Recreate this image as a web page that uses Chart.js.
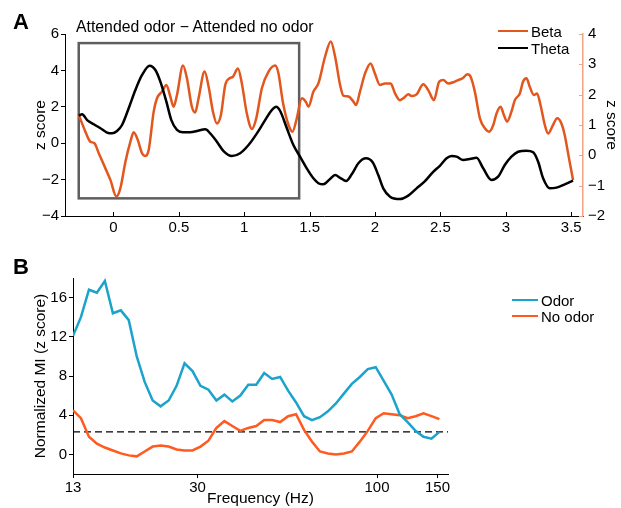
<!DOCTYPE html>
<html lang="en">
<head>
  <meta charset="UTF-8">
  <title>Attended odor vs no odor</title>
  <script src="https://cdn.jsdelivr.net/npm/chart.js"></script>
  <style>
    body { margin: 0; background: #fff; font-family: "Liberation Sans", Arial, sans-serif; }
    #wrap { position: relative; width: 621px; height: 508px; }
    canvas { position: absolute; left: 0; }
    .panel { position: absolute; font-weight: bold; font-size: 22px; line-height: 22px; }
    .note { position: absolute; font-size: 15.8px; line-height: 18px; white-space: nowrap; }
    .key { position: absolute; display: flex; align-items: center; height: 16px; font-size: 15px; white-space: nowrap; }
    .key span.line { display: inline-block; height: 2px; margin-right: 3px; }
  </style>
</head>
<body>
<div id="wrap">
  <canvas id="chartA" width="621" height="250" style="top:0"></canvas>
  <canvas id="chartB" width="621" height="258" style="top:250px"></canvas>

  <div class="panel" style="left:13px;top:11px">A</div>
  <div class="note" style="left:76px;top:18px">Attended odor − Attended no odor</div>
  <div class="key" style="left:498px;top:23px"><span class="line" style="width:30px;background:#e2571e"></span>Beta</div>
  <div class="key" style="left:498px;top:40px"><span class="line" style="width:30px;background:#000"></span>Theta</div>

  <div class="panel" style="left:13px;top:256px">B</div>
  <div class="key" style="left:512px;top:292px"><span class="line" style="width:26px;background:#1ca3cc"></span>Odor</div>
  <div class="key" style="left:512px;top:308px"><span class="line" style="width:26px;background:#ff5a1f"></span>No odor</div>
</div>

<script>
  // ---- panel A: z score over time (s) ----
  const thetaTime = [-0.265, -0.239, -0.201, -0.150, -0.099, -0.053, -0.010, 0.028, 0.066, 0.117,
    0.168, 0.219, 0.277, 0.321, 0.359, 0.405, 0.443, 0.486, 0.532, 0.588,
    0.639, 0.702, 0.740, 0.791, 0.842, 0.906, 0.969, 1.033, 1.097, 1.160,
    1.211, 1.244, 1.275, 1.326, 1.376, 1.427, 1.478, 1.529, 1.567, 1.605,
    1.656, 1.695, 1.733, 1.779, 1.822, 1.873, 1.931, 1.982, 2.025, 2.063,
    2.115, 2.190, 2.254, 2.318, 2.382, 2.445, 2.496, 2.547, 2.585, 2.624,
    2.674, 2.725, 2.776, 2.827, 2.890, 2.941, 2.992, 3.043, 3.094, 3.158,
    3.209, 3.247, 3.285, 3.336, 3.387, 3.450, 3.514];
  const thetaZ = [1.51, 1.59, 1.27, 1.04, 0.82, 0.60, 0.54, 0.67, 1.00, 1.92,
    2.92, 3.75, 4.26, 4.02, 3.38, 2.28, 1.27, 0.73, 0.60, 0.60,
    0.67, 0.76, 0.54, 0.08, -0.43, -0.70, -0.55, -0.10, 0.54, 1.27,
    1.82, 2.00, 1.77, 0.82, -0.10, -0.74, -1.38, -1.93, -2.20, -2.26,
    -1.97, -1.75, -1.90, -2.08, -1.71, -1.10, -0.83, -1.05, -1.75, -2.48,
    -2.94, -3.07, -2.88, -2.48, -2.08, -1.57, -1.24, -0.83, -0.70, -0.74,
    -0.92, -0.87, -0.80, -1.38, -2.02, -1.84, -1.20, -0.74, -0.47, -0.41,
    -0.50, -1.02, -1.93, -2.48, -2.44, -2.26, -2.06];

  const betaTime = [-0.265, -0.214, -0.176, -0.145, -0.112, -0.061, -0.023, 0.023, 0.053, 0.092,
    0.130, 0.155, 0.186, 0.219, 0.244, 0.270, 0.308, 0.333, 0.371, 0.405,
    0.435, 0.460, 0.486, 0.532, 0.562, 0.600, 0.625, 0.651, 0.697, 0.728,
    0.761, 0.791, 0.822, 0.855, 0.888, 0.914, 0.952, 0.982, 1.020, 1.059,
    1.092, 1.135, 1.186, 1.237, 1.262, 1.295, 1.339, 1.369, 1.402, 1.440,
    1.473, 1.491, 1.529, 1.567, 1.618, 1.662, 1.695, 1.733, 1.758, 1.797,
    1.835, 1.855, 1.885, 1.924, 1.966, 1.999, 2.038, 2.076, 2.120, 2.153,
    2.190, 2.216, 2.254, 2.280, 2.318, 2.369, 2.407, 2.450, 2.491, 2.522,
    2.560, 2.611, 2.636, 2.670, 2.705, 2.731, 2.763, 2.802, 2.840, 2.873,
    2.904, 2.929, 2.960, 2.985, 3.010, 3.043, 3.069, 3.107, 3.132, 3.158,
    3.183, 3.214, 3.239, 3.265, 3.298, 3.323, 3.361, 3.392, 3.425, 3.450,
    3.483, 3.514];
  const betaZ = [1.33, 0.78, 0.45, 0.40, 0.07, -0.43, -0.81, -1.36, -1.09, -0.21,
    0.45, 0.76, 0.51, 0.07, -0.02, 0.18, 1.44, 1.88, 2.10, 2.32,
    1.94, 1.60, 1.99, 2.96, 2.54, 1.60, 1.41, 1.88, 2.76, 2.26,
    1.44, 1.05, 1.33, 2.32, 2.54, 2.59, 2.86, 2.37, 1.38, 0.87,
    1.22, 2.21, 2.76, 2.96, 2.70, 1.77, 1.00, 0.78, 1.22, 1.88,
    1.75, 1.60, 2.10, 2.37, 3.25, 3.75, 3.25, 2.32, 1.97, 1.94,
    1.77, 1.66, 2.10, 2.70, 3.03, 2.70, 2.32, 2.37, 2.37, 2.04,
    1.82, 1.88, 2.01, 1.96, 2.01, 2.34, 2.15, 1.82, 2.43, 2.48,
    2.37, 2.43, 2.48, 2.54, 2.67, 2.59, 2.10, 1.22, 0.89, 0.78,
    1.00, 1.38, 1.60, 1.33, 1.11, 1.44, 1.82, 2.04, 2.43, 2.54,
    2.26, 1.99, 2.04, 1.66, 1.00, 0.72, 1.00, 1.22, 1.05, 0.67,
    -0.10, -0.81];

  const timeTicks = [0, 0.5, 1, 1.5, 2, 2.5, 3, 3.5];
  const windowTime = [-0.265, 1.42];   // grey box, in seconds
  const windowZ = [-3.03, 5.5];        // grey box, left z score

  // ---- panel B: normalized MI over frequency ----
  const freqHz = [13.0, 13.71, 14.47, 15.26, 16.10, 16.99, 17.92, 18.90, 19.94, 21.03,
    22.19, 23.41, 24.70, 26.05, 27.48, 28.99, 30.58, 32.26, 34.03, 35.90,
    37.87, 39.95, 42.15, 44.46, 46.90, 49.48, 52.19, 55.06, 58.08, 61.27,
    64.64, 68.18, 71.93, 75.88, 80.05, 84.45, 89.09, 93.98, 99.14, 104.6,
    110.3, 116.4, 122.8, 129.5, 136.6, 144.1, 152.0];
  const odorMI = [12.1, 14.0, 16.8, 16.5, 17.7, 14.4, 14.7, 13.7, 10.0, 7.4,
    5.5, 4.9, 5.5, 7.0, 9.3, 8.5, 7.0, 6.6, 5.5, 6.1,
    5.4, 6.0, 7.1, 7.1, 8.3, 7.7, 7.9, 6.5, 5.3, 3.9,
    3.5, 3.8, 4.4, 5.2, 6.2, 7.2, 7.9, 8.7, 8.9, 7.5,
    6.1, 4.1, 3.3, 2.4, 1.8, 1.6, 2.3];
  const noOdorMI = [4.5, 3.7, 1.8, 1.1, 0.7, 0.4, 0.1, -0.1, -0.2, 0.3,
    0.8, 0.9, 0.8, 0.5, 0.4, 0.4, 0.8, 1.4, 2.7, 3.4,
    2.9, 2.4, 2.7, 2.9, 3.5, 3.5, 3.3, 3.9, 4.1, 2.5,
    1.3, 0.3, 0.1, 0.0, 0.1, 0.3, 1.3, 2.4, 3.7, 4.2,
    4.1, 4.0, 3.7, 3.9, 4.2, 3.9, 3.6];
  const freqTicks = [13, 30, 100, 150];
  const miTicks = [0, 4, 8, 12, 16];
  const freqRange = [13, 161];
  const chanceMI = 2.3;

  const betaColor = '#e2571e';
  const rightAxisColor = '#f2a285';
  const minus = v => String(v).replace('-', '\u2212');

  Chart.defaults.font.family = '"Liberation Sans", Arial, sans-serif';
  Chart.defaults.font.size = 15;
  Chart.defaults.color = '#000';

  // grey analysis window + inward ticks on panel A
  const panelAExtras = {
    id: 'panelAExtras',
    beforeDatasetsDraw(chart) {
      const { ctx, scales: { x, y } } = chart;
      const l = x.getPixelForValue(windowTime[0]);
      const r = x.getPixelForValue(windowTime[1]);
      const t = y.getPixelForValue(windowZ[1]);
      const b = y.getPixelForValue(windowZ[0]);
      ctx.save();
      ctx.strokeStyle = '#5e5e5e';
      ctx.lineWidth = 2.5;
      ctx.strokeRect(l, t, r - l, b - t);
      ctx.restore();
    },
    afterDraw(chart) {
      const { ctx, chartArea, scales: { x, y2 } } = chart;
      ctx.save();
      ctx.lineWidth = 1;
      ctx.strokeStyle = '#000';
      ctx.beginPath();
      x.ticks.forEach(t => {
        const px = Math.round(x.getPixelForValue(t.value)) + 0.5;
        ctx.moveTo(px, chartArea.bottom);
        ctx.lineTo(px, chartArea.bottom - 4);
      });
      ctx.stroke();
      ctx.strokeStyle = rightAxisColor;
      ctx.beginPath();
      y2.ticks.forEach(t => {
        const py = Math.round(y2.getPixelForValue(t.value)) + 0.5;
        ctx.moveTo(chartArea.right, py);
        ctx.lineTo(chartArea.right - 4, py);
      });
      ctx.stroke();
      ctx.restore();
    }
  };

  new Chart(document.getElementById('chartA'), {
    type: 'line',
    data: {
      datasets: [
        {
          label: 'Theta',
          data: thetaTime.map((t, i) => ({ x: t, y: thetaZ[i] })),
          yAxisID: 'y',
          borderColor: '#000',
          borderWidth: 2.5,
          pointRadius: 0,
          cubicInterpolationMode: 'monotone'
        },
        {
          label: 'Beta',
          data: betaTime.map((t, i) => ({ x: t, y: betaZ[i] })),
          yAxisID: 'y2',
          borderColor: betaColor,
          borderWidth: 2.5,
          pointRadius: 0,
          cubicInterpolationMode: 'monotone'
        }
      ]
    },
    options: {
      responsive: false,
      animation: false,
      devicePixelRatio: 1,
      layout: { padding: { top: 34, left: 0, right: 0, bottom: 0 } },
      plugins: { legend: { display: false }, tooltip: { enabled: false } },
      scales: {
        x: {
          type: 'linear',
          min: -0.37,
          max: 3.59,
          afterBuildTicks: s => { s.ticks = timeTicks.map(v => ({ value: v })); },
          afterFit: s => { s.height = 34; },
          grid: { drawOnChartArea: false, drawTicks: false },
          border: { color: '#000', width: 1 },
          ticks: { padding: 3, maxRotation: 0, callback: v => minus(v) }
        },
        y: {
          position: 'left',
          min: -4,
          max: 6,
          afterBuildTicks: s => { s.ticks = [-4, -2, 0, 2, 4, 6].map(v => ({ value: v })); },
          afterFit: s => { s.width = 65; },
          grid: { drawOnChartArea: false, tickLength: 4, color: '#000' },
          border: { color: '#000', width: 1 },
          ticks: { padding: 2, callback: v => minus(v) },
          title: { display: true, text: 'z score', font: { size: 15.5 }, padding: { top: 31, bottom: 0 } }
        },
        y2: {
          position: 'right',
          min: -2,
          max: 4,
          afterBuildTicks: s => { s.ticks = [-2, -1, 0, 1, 2, 3, 4].map(v => ({ value: v })); },
          afterFit: s => { s.width = 38; },
          grid: { drawOnChartArea: false, drawTicks: false },
          border: { color: rightAxisColor, width: 1.5 },
          ticks: { padding: 5, callback: v => minus(v) },
          title: { display: true, text: 'z score', font: { size: 15.5 }, padding: { top: 0, bottom: 0 } }
        }
      }
    },
    plugins: [panelAExtras]
  });

  new Chart(document.getElementById('chartB'), {
    type: 'line',
    data: {
      datasets: [
        {
          label: 'Odor',
          data: freqHz.map((f, i) => ({ x: f, y: odorMI[i] })),
          borderColor: '#1ca3cc',
          borderWidth: 2.5,
          pointRadius: 0,
          tension: 0
        },
        {
          label: 'No odor',
          data: freqHz.map((f, i) => ({ x: f, y: noOdorMI[i] })),
          borderColor: '#ff5a1f',
          borderWidth: 2.5,
          pointRadius: 0,
          tension: 0
        },
        {
          label: 'chance',
          data: freqRange.map(f => ({ x: f, y: chanceMI })),
          borderColor: '#000',
          borderWidth: 1.3,
          borderDash: [7, 4],
          pointRadius: 0
        }
      ]
    },
    options: {
      responsive: false,
      animation: false,
      devicePixelRatio: 1,
      layout: { padding: { top: 28, left: 0, right: 173, bottom: 0 } },
      plugins: { legend: { display: false }, tooltip: { enabled: false } },
      scales: {
        x: {
          type: 'logarithmic',
          min: freqRange[0],
          max: freqRange[1],
          afterBuildTicks: s => { s.ticks = freqTicks.map(v => ({ value: v })); },
          afterFit: s => { s.height = 34; },
          grid: { drawOnChartArea: false, tickLength: 4, color: '#000' },
          border: { color: '#000', width: 1 },
          ticks: { padding: 1, maxRotation: 0, autoSkip: false, callback: v => String(v) },
          title: { display: true, text: 'Frequency (Hz)', font: { size: 15.5 }, padding: { top: 0, bottom: 0 } }
        },
        y: {
          min: -2,
          max: 18,
          afterBuildTicks: s => { s.ticks = miTicks.map(v => ({ value: v })); },
          afterFit: s => { s.width = 73; },
          grid: { drawOnChartArea: false, tickLength: 4, color: '#000' },
          border: { color: '#000', width: 1 },
          ticks: { padding: 2, callback: v => minus(v) },
          title: { display: true, text: 'Normalized MI (z score)', font: { size: 15.5 }, padding: { top: 31, bottom: 0 } }
        }
      }
    }
  });
</script>
</body>
</html>
